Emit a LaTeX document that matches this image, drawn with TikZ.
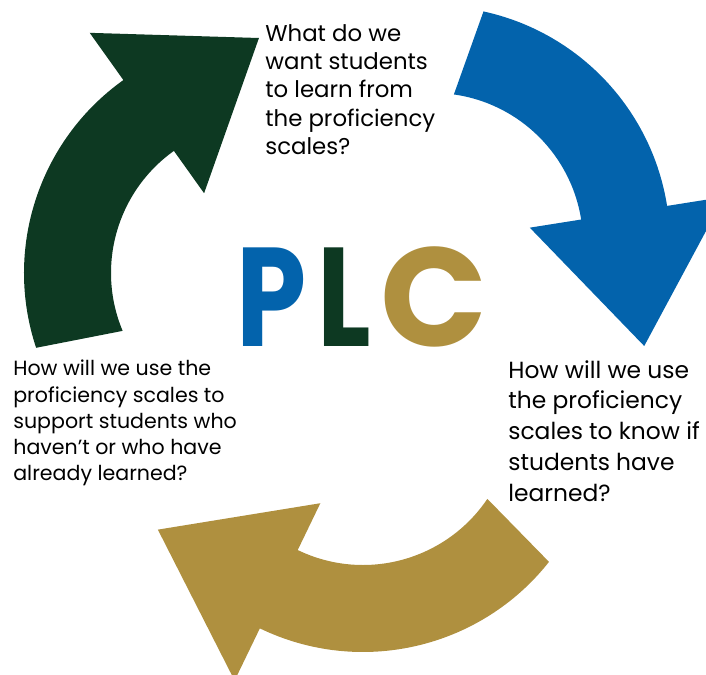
\documentclass[tikz,border=0pt]{standalone}
\usepackage{fontspec}
\usepackage{graphicx}
\setmainfont{Poppins}
\usetikzlibrary{calc}
\definecolor{plcgreen}{RGB}{13,57,34}
\definecolor{plcblue}{RGB}{3,99,172}
\definecolor{plcgold}{RGB}{175,144,63}

\begin{document}
\begin{tikzpicture}[x=0.02cm, y=0.02cm,
  question/.style={anchor=north west, inner sep=0pt, align=left, text=black}]
  \useasboundingbox (0,0) rectangle (706,675);
  \clip (0,0) rectangle (706,675);
  % centres of the three curved arrows
  \coordinate (cgreen) at (261,402);
  \coordinate (cblue) at (433,432);
  \coordinate (cgold) at (363,260);
  % ring between r=150 and r=237, head from r=98 to r=295
  \foreach \ctr/\tail/\head/\col in {cgreen/202.7/125.5/plcgreen, cblue/82/9/plcblue, cgold/-34/-115.8/plcgold} {
    \fill[\col, shift={(\ctr)}] (\tail-4.3:237) arc[start angle=\tail-4.3, end angle=\head, radius=237]
      -- (\head:295) -- (\head-35:235) -- (\head:98) -- (\head:150)
      arc[start angle=\head, end angle=\tail, radius=150] -- cycle;
  }
  \node[question, font=\fontsize{13}{16.1}\selectfont] (learn) at (265,651) {What do we\\want students\\to learn from\\the proficiency\\scales?};
  \node[question, font=\fontsize{13.3}{17.5}\selectfont] (know) at (508,315) {How will we use\\the proficiency\\scales to know if\\students have\\learned?};
  \node[question, font=\fontsize{11.7}{14.9}\selectfont] (support) at (13,315) {How will we use the\\proficiency scales to\\support students who\\haven’t or who have\\already learned?};
  \node[inner sep=0pt, anchor=base west, font=\fontsize{80}{80}\selectfont\bfseries] (plc) at (236,328)
    {\scalebox{0.8}[1]{\textcolor{plcblue}{P}}\hspace{6.3pt}\scalebox{0.8}[1]{\textcolor{plcgreen}{L}}\hspace{5.4pt}\textcolor{plcgold}{C}};
\end{tikzpicture}
\end{document}
